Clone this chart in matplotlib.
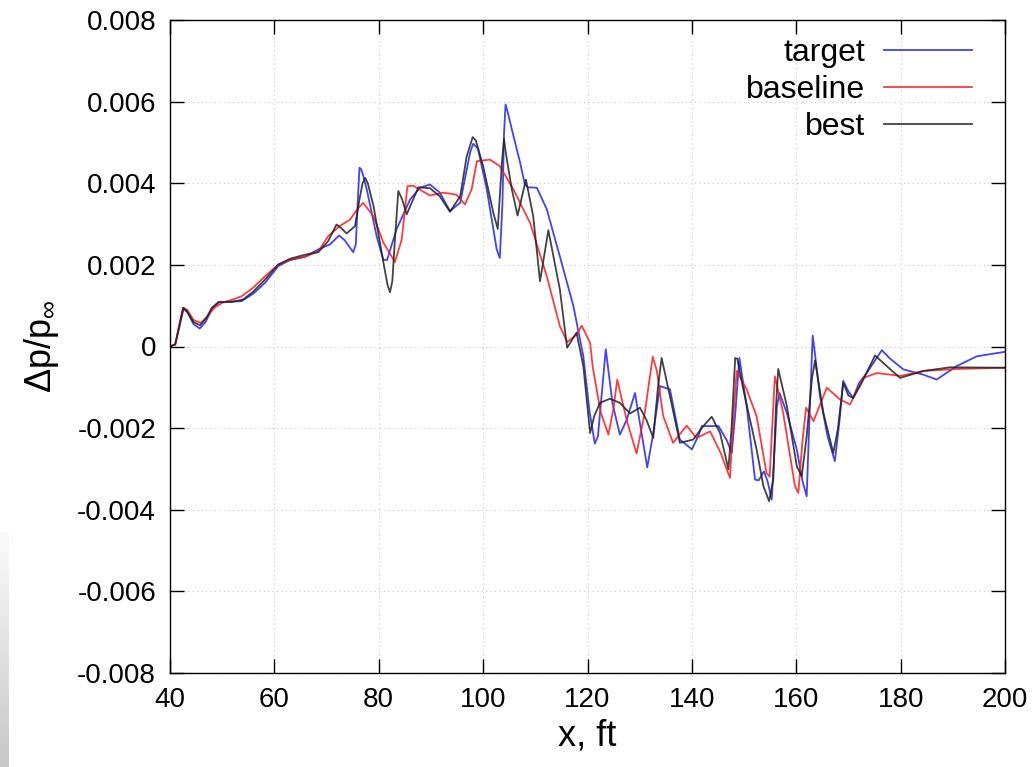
import matplotlib
matplotlib.use("Agg")
import matplotlib.pyplot as plt
import numpy as np

target_x = [40.0, 41.0, 41.8, 42.6, 43.3, 44.5, 45.7, 46.8, 48.0, 49.3, 51.0, 53.7, 56.0, 58.2,
            60.75, 63.0, 65.9, 68.4, 70.65, 72.4, 73.5, 75.1, 75.6, 76.0, 76.3, 76.6, 77.0,
            77.7, 79.6, 80.9, 81.6, 83.4, 86.0, 87.9, 89.8, 91.7, 93.65, 95.6, 97.5, 98.1,
            99.0, 100.7, 102.6, 103.2, 103.7, 104.0, 104.3, 104.7, 105.5, 107.1, 108.0,
            108.6, 110.3, 112.2, 114.7, 117.3, 119.2, 120.4, 121.4, 122.0, 123.5, 124.8,
            126.2, 127.5, 129.1, 130.2, 131.45, 132.5, 133.9, 135.8, 137.7, 140.0, 141.2,
            141.9, 145.1, 146.7, 147.65, 148.4, 149.1, 150.5, 152.1, 152.8, 153.8, 154.5,
            155.3, 156.3, 156.8, 158.2, 160.1, 161.2, 162.0, 162.6, 163.15, 163.6, 164.55,
            166.0, 167.4, 168.3, 169.0, 170.0, 170.9, 172.0, 173.5, 176.4, 178.0, 180.5,
            184.35, 186.9, 190.75, 194.6, 200.0]
target_dp = [0.0, 0.05, 0.5, 0.92, 0.85, 0.55, 0.44, 0.6, 0.9, 1.08, 1.10, 1.11, 1.3, 1.56,
             1.97, 2.12, 2.2, 2.38, 2.5, 2.72, 2.6, 2.31, 2.5, 3.6, 4.38, 4.35, 4.2,
             3.85, 2.70, 2.12, 2.12, 2.87, 3.6, 3.89, 3.97, 3.77, 3.32, 3.52, 4.75, 4.97,
             4.85, 3.85, 2.38, 2.17, 3.5, 5.2, 5.93, 5.75, 5.32, 4.5, 3.97,
             3.9, 3.89, 3.36, 2.21, 0.99, -0.24, -1.6, -2.38, -2.2, -0.07, -1.4,
             -2.16, -1.8, -1.14, -2.0, -2.96, -2.2, -0.97, -1.05, -2.28, -2.52, -2.2,
             -1.95, -1.95, -2.3, -2.61, -1.5, -0.28, -1.46, -3.26, -3.28, -3.06, -3.3,
             -3.75, -1.46, -1.14, -1.63, -2.52, -3.3, -3.67, -1.5, 0.27, -0.2, -1.22,
             -2.2, -2.81, -1.8, -0.84, -1.1, -1.26, -0.9, -0.65, -0.09, -0.3, -0.56,
             -0.69, -0.81, -0.48, -0.24, -0.13]

baseline_x = [40.0, 41.0, 41.8, 42.5, 43.3, 44.5, 45.9, 47.0, 48.5, 50.0, 52.0, 53.7, 56.0,
              58.2, 60.75, 63.0, 65.9, 68.4, 70.3, 72.5, 74.5, 75.8, 77.0, 79.0, 80.9, 83.1,
              84.4, 85.5, 86.6, 89.8, 92.4, 94.9, 96.5, 97.8, 98.8, 101.3, 103.2, 105.8,
              109.0, 112.2, 114.7, 116.1, 117.9, 118.9, 120.5, 121.0, 122.5, 124.0, 125.0,
              125.7, 127.5, 129.4, 131.0, 132.5, 133.3, 134.5, 136.4, 139.0, 140.9, 143.5,
              145.5, 147.3, 148.0, 148.6, 150.5, 152.4, 154.3, 154.9, 155.9, 157.5, 159.75,
              160.4, 161.2, 161.9, 163.3, 165.85, 168.4, 170.3, 172.85, 175.4, 180.0,
              184.35, 190.75, 200.0]
baseline_dp = [0.0, 0.05, 0.55, 0.95, 0.9, 0.65, 0.58, 0.72, 0.95, 1.07, 1.15, 1.23, 1.45,
               1.72, 2.01, 2.12, 2.2, 2.33, 2.70, 2.95, 3.11, 3.35, 3.52, 3.19, 2.54, 2.07,
               2.62, 3.93, 3.94, 3.70, 3.77, 3.72, 3.48, 3.85, 4.54, 4.58, 4.42, 3.85,
               3.03, 1.72, 0.50, 0.11, 0.29, 0.51, 0.09, -0.5, -1.6, -2.16, -1.5,
               -0.81, -1.8, -2.62, -1.6, -0.25, -0.6, -1.7, -2.36, -1.94, -2.24, -2.08,
               -2.6, -3.22, -1.6, -0.60, -1.05, -1.71, -3.10, -3.19, -0.73, -1.63, -3.42,
               -3.59, -2.3, -1.50, -1.83, -1.01, -1.30, -1.42, -0.77, -0.65, -0.72,
               -0.60, -0.55, -0.52]

best_x = [40.0, 41.0, 41.8, 42.55, 43.3, 44.5, 45.75, 47.0, 48.0, 49.3, 51.8, 54.0, 56.0,
          58.2, 60.75, 63.0, 65.9, 68.4, 70.3, 71.9, 72.8, 73.85, 75.45, 76.3, 76.9, 77.4,
          77.9, 79.0, 80.9, 81.7, 82.15, 82.6, 83.1, 83.75, 84.5, 85.35, 87.6, 89.8, 91.7,
          93.65, 95.6, 96.85, 98.0, 98.6, 100.0, 101.95, 102.8, 103.6, 104.0, 104.4,
          105.5, 106.6, 108.2, 109.6, 110.9, 112.5, 114.7, 116.1, 117.9, 119.2, 120.5,
          121.3, 122.4, 124.3, 126.2, 128.15, 130.05, 131.3, 132.6, 133.5, 134.2, 135.8,
          137.7, 140.25, 142.2, 143.8, 145.4, 147.0, 147.6, 148.3, 148.7, 149.85, 152.4,
          153.7, 154.8, 155.6, 156.1, 156.55, 158.2, 160.1, 161.05, 162.0, 163.0, 163.6,
          165.2, 167.1, 168.0, 169.0, 170.0, 170.9, 172.5, 175.1, 177.5, 179.9, 184.35,
          189.5, 200.0]
best_dp = [0.0, 0.05, 0.5, 0.95, 0.85, 0.6, 0.52, 0.7, 0.95, 1.09, 1.09, 1.15, 1.35,
           1.64, 2.01, 2.15, 2.25, 2.31, 2.58, 2.99, 2.9, 2.77, 2.95, 3.6, 4.0, 4.13,
           4.0, 3.44, 2.05, 1.5, 1.33, 1.6, 2.62, 3.81, 3.6, 3.24, 3.9, 3.88, 3.68,
           3.30, 3.68, 4.66, 5.13, 5.05, 4.42, 3.28, 2.88, 4.5, 5.09, 4.7,
           3.85, 3.21, 4.09, 3.19, 1.60, 2.85, 1.40, -0.03, 0.34, -0.48, -2.12,
           -1.7, -1.38, -1.28, -1.38, -1.64, -1.50, -1.8, -2.24, -1.0, -0.28, -1.22,
           -2.36, -2.28, -1.95, -1.72, -2.12, -3.01, -2.0, -0.28, -0.3, -1.05, -2.52,
           -3.42, -3.79, -3.26, -1.5, -0.55, -1.46, -2.93, -3.18, -2.2, -0.8, -0.34,
           -1.63, -2.61, -2.0, -0.89, -1.2, -1.26, -0.9, -0.22, -0.5, -0.77, -0.60,
           -0.51, -0.52]

x_ticks = [40, 60, 80, 100, 120, 140, 160, 180, 200]
y_ticks = [-0.008, -0.006, -0.004, -0.002, 0, 0.002, 0.004, 0.006, 0.008]
y_ticklabels = ["-0.008", "-0.006", "-0.004", "-0.002", "0",
                "0.002", "0.004", "0.006", "0.008"]

plt.rcParams["font.family"] = ["Liberation Sans", "DejaVu Sans"]
plt.rcParams["mathtext.fontset"] = "custom"
plt.rcParams["mathtext.rm"] = "Liberation Sans"
plt.rcParams["mathtext.it"] = "Liberation Sans"

fig = plt.figure(figsize=(10.34, 7.67), dpi=100)
ax = fig.add_axes([170 / 1034, 1 - 673 / 767, 835 / 1034, 653 / 767])

# scanned-page shading at the lower left edge
shade = fig.add_axes([0, 0, 9 / 1034, 235 / 767])
shade.imshow(np.linspace(0.98, 0.78, 50).reshape(-1, 1), cmap="gray", vmin=0, vmax=1,
             aspect="auto", extent=[0, 1, 0, 1])
shade.axis("off")

line_kw = dict(lw=1.3, alpha=0.85, solid_joinstyle="round")
ax.plot(target_x, np.array(target_dp) * 1e-3, color="#2020ff", label="target", **line_kw)
ax.plot(baseline_x, np.array(baseline_dp) * 1e-3, color="#ff1a1a", label="baseline",
        **line_kw)
ax.plot(best_x, np.array(best_dp) * 1e-3, color="#222222", label="best", **line_kw)

ax.set_xlim(40, 200)
ax.set_ylim(-0.008, 0.008)
ax.set_xticks(x_ticks)
ax.set_yticks(y_ticks)
ax.set_yticklabels(y_ticklabels)
ax.grid(True, color="#c8c8c8", ls=(0, (1, 3)), lw=0.8)
ax.tick_params(direction="in", length=10, width=1.0, top=True, right=True,
               labelsize=20, pad=10)
for s in ax.spines.values():
    s.set_linewidth(1.0)

ax.set_xlabel("x, ft", fontsize=26, labelpad=4)
ax.set_ylabel(r"Δp/p$_{\infty}$", fontsize=26, labelpad=12)

ax.legend(loc="upper right", frameon=False, markerfirst=False, fontsize=23,
          handlelength=2.75, handletextpad=0.6, labelspacing=0.22,
          borderaxespad=0.0, bbox_to_anchor=(0.976, 0.992))

fig.savefig("out.png", dpi=100)
